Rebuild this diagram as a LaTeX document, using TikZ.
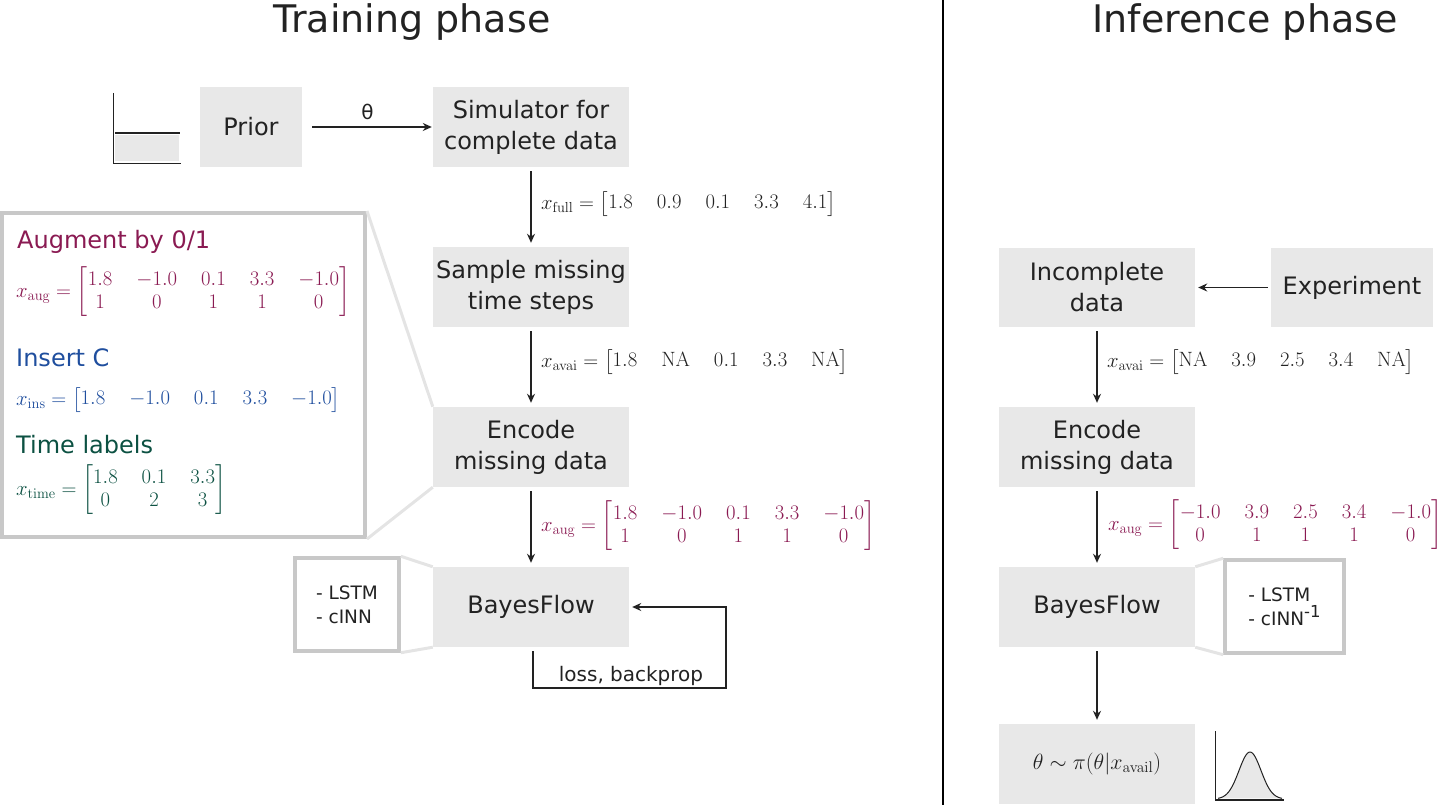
\RequirePackage{fix-cm}
\documentclass[tikz,border=0pt]{standalone}
\usepackage{amsmath}
\usepackage[no-math]{fontspec}
\setmainfont{DejaVu Sans}
\usetikzlibrary{arrows.meta}
\definecolor{boxgray}{HTML}{E8E8E8}
\definecolor{bordergray}{HTML}{C8C8C8}
\definecolor{linkgray}{HTML}{E4E4E4}
\definecolor{txt}{HTML}{222222}
\definecolor{augpurple}{HTML}{8A1A52}
\definecolor{insblue}{HTML}{1F4E9E}
\definecolor{timegreen}{HTML}{0C5142}
\setlength{\arraycolsep}{12pt}
\begin{document}
\begin{tikzpicture}[x=1pt,y=-1pt,
  box/.style={fill=boxgray, minimum width=196pt, minimum height=80pt, inner sep=0pt, align=center, text=txt, font=\fontsize{24}{31}\selectfont},
  framebox/.style={draw=bordergray, line width=4pt, fill=white, inner sep=0pt},
  linkline/.style={draw=linkgray, line width=3pt},
  arr/.style={draw=txt, line width=1.4pt, -{Stealth[length=9pt,width=8pt]}},
  mathlbl/.style={anchor=west, inner sep=0pt, text=txt, font=\fontsize{20.7}{23}\selectfont},
  headtxt/.style={anchor=west, inner sep=0pt, font=\fontsize{24}{29}\selectfont},
  smalltxt/.style={font=\fontsize{18.5}{24}\selectfont, align=left, text=txt, inner sep=0pt},
  titletxt/.style={font=\fontsize{38}{44}\selectfont, text=txt, inner sep=0pt}]
\useasboundingbox (0,0) rectangle (1440,805);

% titles and separator
\node[titletxt] (t1) at (412,22) {Training phase};
\node[titletxt] (t2) at (1245,22) {Inference phase};
\draw[line width=1.5pt] (943,0) -- (943,805);

% prior icon
\fill[boxgray] (115,135) rectangle (179,161);
\draw[line width=2pt, txt] (115,133) -- (180,133);
\draw[line width=1pt, txt] (113,93) -- (113,164) -- (181,164);

% training boxes
\node[box, minimum width=102pt] (prior) at (251,127) {Prior};
\node[box] (sim) at (531,127) {Simulator for\\complete data};
\node[box] (sample) at (531,287) {Sample missing\\time steps};
\node[box] (enc) at (531,447) {Encode\\missing data};
\node[box] (bf) at (531,607) {BayesFlow};

% augment detail box
\node[framebox, minimum width=363pt, minimum height=324pt] (aug) at (183.5,375) {};
\draw[linkline] (aug.north east) -- (enc.north west);
\draw[linkline] (aug.south east) -- (enc.south west);
\node[headtxt, text=augpurple] (h1) at (17,242) {Augment by 0/1};
\node[mathlbl, text=augpurple] (m1) at (16,292) {$x_{\mathrm{aug}} = \begin{bmatrix}1.8 & -1.0 & 0.1 & 3.3 & -1.0\\ 1 & 0 & 1 & 1 & 0\end{bmatrix}$};
\node[headtxt, text=insblue] (h2) at (16,358) {Insert C};
\node[mathlbl, text=insblue] (m2) at (16,400) {$x_{\mathrm{ins}} = \begin{bmatrix}1.8 & -1.0 & 0.1 & 3.3 & -1.0\end{bmatrix}$};
\node[headtxt, text=timegreen] (h3) at (16,445) {Time labels};
\node[mathlbl, text=timegreen] (m3) at (16,490) {$x_{\mathrm{time}} = \begin{bmatrix}1.8 & 0.1 & 3.3\\ 0 & 2 & 3\end{bmatrix}$};

% LSTM box (training)
\node[framebox, line width=3.5pt, minimum width=104pt, minimum height=93pt] (lstm1) at (347,604.5) {};
\node[smalltxt] (l1) at (lstm1.center) {- LSTM\\- cINN};
\draw[linkline] (lstm1.north east) -- (bf.north west);
\draw[linkline] (lstm1.south east) -- (bf.south west);

% training arrows
\draw[arr, shorten <=10pt, shorten >=1pt] (prior) -- node[above=3pt, font=\fontsize{20}{24}\selectfont, text=txt] {θ} (sim);
\draw[arr, shorten <=4pt, shorten >=4pt] (sim) -- (sample);
\draw[arr, shorten <=4pt, shorten >=4pt] (sample) -- (enc);
\draw[arr, shorten <=4pt, shorten >=4pt] (enc) -- (bf);
\node[mathlbl] (xf) at (541,204) {$x_{\mathrm{full}} = \begin{bmatrix}1.8 & 0.9 & 0.1 & 3.3 & 4.1\end{bmatrix}$};
\node[mathlbl] (xa) at (541,362) {$x_{\mathrm{avai}} = \begin{bmatrix}1.8 & \mathrm{NA} & 0.1 & 3.3 & \mathrm{NA}\end{bmatrix}$};
\node[mathlbl, text=augpurple] (xg) at (541,526) {$x_{\mathrm{aug}} = \begin{bmatrix}1.8 & -1.0 & 0.1 & 3.3 & -1.0\\ 1 & 0 & 1 & 1 & 0\end{bmatrix}$};

% feedback loop
\coordinate (fbA) at (533,651);
\coordinate (fbB) at (726,688);
\draw[arr] (fbA) |- (fbB) |- ([xshift=3pt]bf.east);
\node[font=\fontsize{20}{24}\selectfont, text=txt, inner sep=0pt] (loss) at (631,676) {loss, backprop};

% inference boxes
\node[box, minimum height=79pt] (inc) at (1097,287.5) {Incomplete\\data};
\node[box, minimum width=162pt, minimum height=79pt] (exp) at (1352,287.5) {Experiment};
\node[box] (enc2) at (1097,447) {Encode\\missing data};
\node[box] (bf2) at (1097,607) {BayesFlow};
\node[box, font=\fontsize{22}{26}\selectfont] (post) at (1097,764) {$\theta \sim \pi(\theta|x_{\mathrm{avail}})$};

% LSTM box (inference)
\node[framebox, line width=3.5pt, minimum width=119pt, minimum height=93pt] (lstm2) at (1284.5,606.5) {};
\node[smalltxt] (l2) at (lstm2.center) {- LSTM\\- cINN\raisebox{0.42em}{\fontsize{16.5}{17}\selectfont -1}};
\draw[linkline] (bf2.north east) -- (lstm2.north west);
\draw[linkline] (bf2.south east) -- (lstm2.south west);

% inference arrows
\draw[arr, shorten <=3pt, shorten >=3pt] (exp) -- (inc);
\draw[arr, shorten <=4pt, shorten >=4pt] (inc) -- (enc2);
\draw[arr, shorten <=4pt, shorten >=4pt] (enc2) -- (bf2);
\draw[arr, shorten <=4pt, shorten >=4pt] (bf2) -- (post);
\node[mathlbl] (xa2) at (1107,362) {$x_{\mathrm{avai}} = \begin{bmatrix}\mathrm{NA} & 3.9 & 2.5 & 3.4 & \mathrm{NA}\end{bmatrix}$};
\node[mathlbl, text=augpurple] (xg2) at (1108,525) {$x_{\mathrm{aug}} = \begin{bmatrix}-1.0 & 3.9 & 2.5 & 3.4 & -1.0\\ 0 & 1 & 1 & 1 & 0\end{bmatrix}$};

% posterior icon
\fill[boxgray] plot[domain=1218:1282, samples=60] ({\x},{799-47*exp(-((\x-1250)^2)/242)}) -- cycle;
\draw[line width=1pt, txt] plot[domain=1218:1282, samples=60] ({\x},{799-47*exp(-((\x-1250)^2)/242)});
\draw[line width=1pt, txt] (1215,731) -- (1215,800);
\draw[line width=2pt, txt] (1215,800) -- (1284,800);
\end{tikzpicture}
\end{document}
